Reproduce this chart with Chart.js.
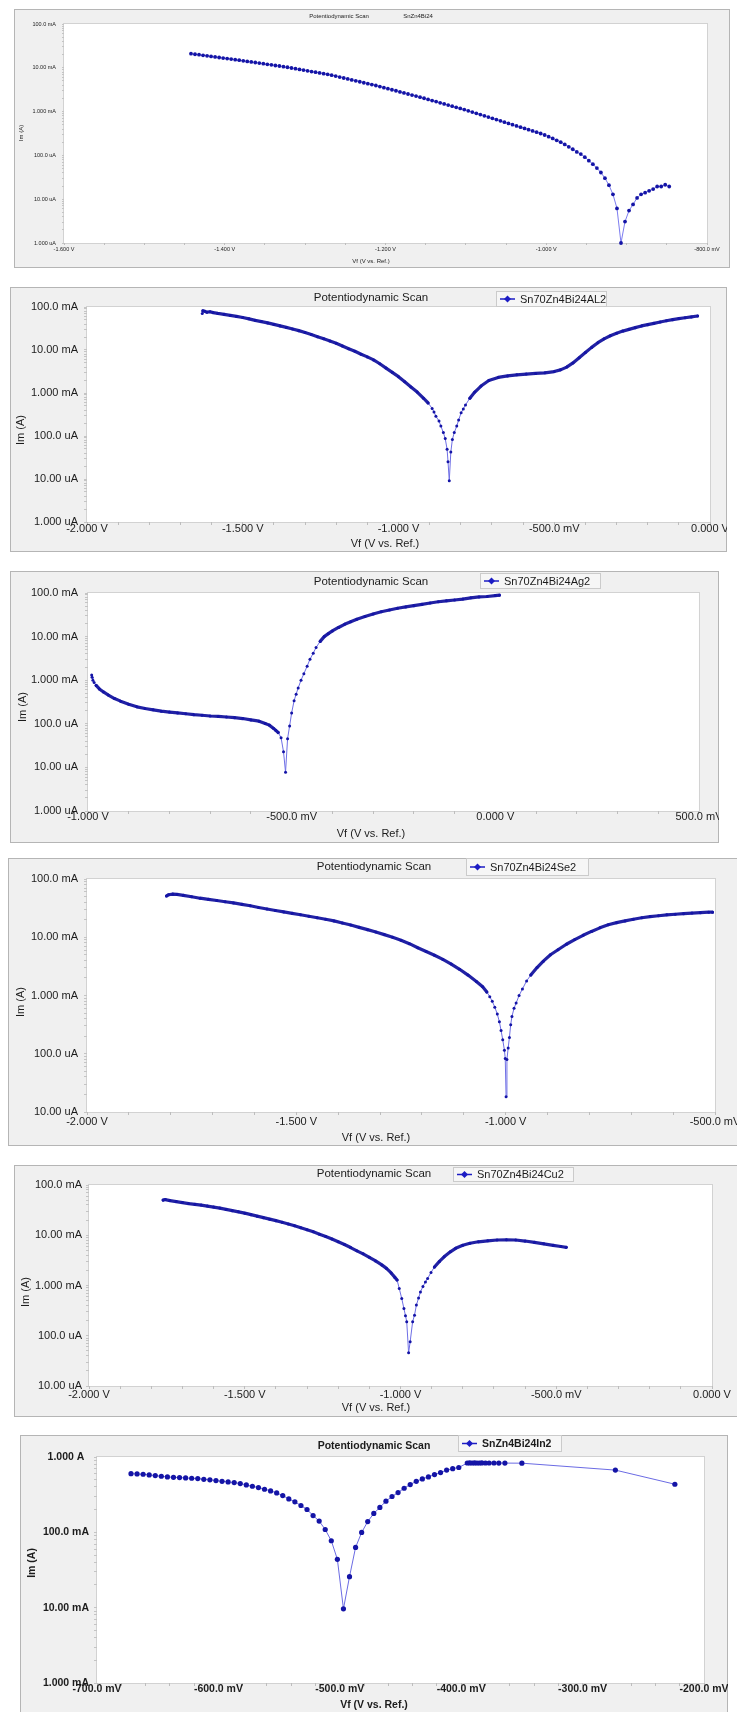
<!DOCTYPE html>
<html>
<head>
<meta charset="utf-8">
<script src="https://cdn.jsdelivr.net/npm/chart.js@4.4.1/dist/chart.umd.min.js"></script>
<style>
  html, body { margin: 0; padding: 0; background: #ffffff; }
  body { position: relative; width: 737px; height: 1712px; overflow: hidden; }
  canvas { position: absolute; display: block; }
</style>
</head>
<body>
<script>
// Potentiodynamic polarisation scans of six solder alloys.
// Potential in volts (vs. reference), current in milliamperes.

const sampleNames = ['SnZn4Bi24', 'Sn70Zn4Bi24AL2', 'Sn70Zn4Bi24Ag2', 'Sn70Zn4Bi24Se2', 'Sn70Zn4Bi24Cu2', 'SnZn4Bi24In2'];

const scan1Potential = [
  -1.442, -1.437, -1.432, -1.427, -1.422, -1.417, -1.412, -1.407, -1.402, -1.397,
  -1.392, -1.387, -1.382, -1.377, -1.372, -1.367, -1.362, -1.357, -1.352, -1.347,
  -1.342, -1.337, -1.332, -1.327, -1.322, -1.317, -1.312, -1.307, -1.302, -1.297,
  -1.292, -1.287, -1.282, -1.277, -1.272, -1.267, -1.262, -1.257, -1.252, -1.247,
  -1.242, -1.237, -1.232, -1.227, -1.222, -1.217, -1.212, -1.207, -1.202, -1.197,
  -1.192, -1.187, -1.182, -1.177, -1.172, -1.167, -1.162, -1.157, -1.152, -1.147,
  -1.142, -1.137, -1.132, -1.127, -1.122, -1.117, -1.112, -1.107, -1.102, -1.097,
  -1.092, -1.087, -1.082, -1.077, -1.072, -1.067, -1.062, -1.057, -1.052, -1.047,
  -1.042, -1.037, -1.032, -1.027, -1.022, -1.017, -1.012, -1.007, -1.002, -0.997,
  -0.992, -0.987, -0.982, -0.977, -0.972, -0.967, -0.962, -0.957, -0.952, -0.947,
  -0.942, -0.937, -0.932, -0.927, -0.922, -0.917, -0.912, -0.907, -0.902, -0.897,
  -0.892, -0.887, -0.882, -0.877, -0.872, -0.867, -0.862, -0.857, -0.852, -0.847
];
const scan1Current = [
  21.0, 20.4, 19.9, 19.3, 18.8, 18.2, 17.7, 17.2, 16.7, 16.2,
  15.8, 15.3, 14.9, 14.4, 14.0, 13.6, 13.2, 12.8, 12.4, 12.0,
  11.7, 11.3, 11.0, 10.6, 10.3, 9.89, 9.53, 9.18, 8.85, 8.53,
  8.22, 7.93, 7.64, 7.36, 7.10, 6.78, 6.46, 6.14, 5.85, 5.56,
  5.30, 5.04, 4.80, 4.56, 4.35, 4.13, 3.94, 3.72, 3.52, 3.33,
  3.15, 2.99, 2.82, 2.67, 2.52, 2.39, 2.26, 2.14, 2.02, 1.90,
  1.79, 1.69, 1.59, 1.50, 1.41, 1.33, 1.25, 1.18, 1.11, 1.04,
  0.977, 0.914, 0.855, 0.800, 0.750, 0.701, 0.656, 0.615, 0.575, 0.538,
  0.504, 0.472, 0.442, 0.413, 0.387, 0.362, 0.339, 0.316, 0.292, 0.268,
  0.244, 0.221, 0.200, 0.178, 0.157, 0.138, 0.120, 0.107, 0.0912, 0.0759,
  0.0631, 0.0513, 0.0407, 0.0302, 0.0209, 0.0129, 0.00617, 0.00100, 0.00309, 0.00550,
  0.00759, 0.0107, 0.0129, 0.0141, 0.0155, 0.0170, 0.0195, 0.0195, 0.0214, 0.0195
];

const scan2Potential = [
  -1.630, -1.628, -1.622, -1.615, -1.605, -1.595, -1.580, -1.560, -1.540, -1.520,
  -1.500, -1.480, -1.460, -1.440, -1.420, -1.400, -1.380, -1.360, -1.340, -1.320,
  -1.300, -1.280, -1.260, -1.240, -1.220, -1.200, -1.180, -1.160, -1.140, -1.120,
  -1.100, -1.080, -1.060, -1.040, -1.020, -1.000, -0.980, -0.960, -0.940, -0.920,
  -0.905, -0.892, -0.886, -0.880, -0.870, -0.864, -0.856, -0.850, -0.844, -0.841,
  -0.837, -0.832, -0.827, -0.821, -0.813, -0.807, -0.799, -0.792, -0.785, -0.771,
  -0.755, -0.735, -0.710, -0.680, -0.650, -0.620, -0.590, -0.560, -0.530, -0.500,
  -0.480, -0.460, -0.440, -0.420, -0.400, -0.380, -0.360, -0.340, -0.320, -0.300,
  -0.280, -0.260, -0.240, -0.220, -0.200, -0.180, -0.160, -0.140, -0.120, -0.100,
  -0.080, -0.060, -0.040
];
const scan2Current = [
  70.8, 81.3, 79.4, 75.9, 77.6, 74.1, 70.8, 67.6, 63.8, 60.3,
  56.9, 53.1, 49.0, 45.7, 42.7, 39.4, 36.3, 33.5, 30.9, 28.2,
  25.4, 22.9, 20.4, 18.2, 16.2, 14.3, 12.4, 10.7, 9.33, 7.94,
  6.92, 5.89, 4.79, 3.80, 3.02, 2.40, 1.82, 1.38, 1.05, 0.759,
  0.589, 0.437, 0.363, 0.288, 0.224, 0.170, 0.120, 0.0871, 0.0490, 0.0251,
  0.00912, 0.0427, 0.0832, 0.120, 0.170, 0.234, 0.347, 0.427, 0.525, 0.759,
  1.05, 1.45, 1.95, 2.30, 2.50, 2.65, 2.75, 2.85, 2.95, 3.15,
  3.45, 4.00, 5.00, 6.60, 8.70, 11.5, 14.8, 18.2, 21.4, 24.5,
  27.5, 30.2, 33.1, 36.3, 38.9, 41.7, 44.7, 47.9, 50.7, 53.7,
  56.2, 58.9, 61.7
];

const scan3Potential = [
  -0.991, -0.990, -0.988, -0.985, -0.980, -0.972, -0.962, -0.950, -0.935, -0.920,
  -0.900, -0.880, -0.860, -0.840, -0.820, -0.800, -0.780, -0.760, -0.740, -0.720,
  -0.700, -0.680, -0.660, -0.640, -0.620, -0.600, -0.580, -0.565, -0.555, -0.545,
  -0.539, -0.533, -0.526, -0.520, -0.515, -0.510, -0.505, -0.500, -0.494, -0.489,
  -0.484, -0.477, -0.470, -0.462, -0.455, -0.447, -0.440, -0.430, -0.420, -0.410,
  -0.400, -0.385, -0.370, -0.355, -0.340, -0.320, -0.300, -0.280, -0.260, -0.240,
  -0.220, -0.200, -0.180, -0.160, -0.140, -0.120, -0.100, -0.080, -0.060, -0.040,
  -0.020, 0.000, 0.010
];
const scan3Current = [
  1.32, 1.17, 1.00, 0.891, 0.759, 0.631, 0.537, 0.457, 0.380, 0.331,
  0.282, 0.245, 0.224, 0.209, 0.195, 0.186, 0.178, 0.170, 0.162, 0.157,
  0.151, 0.148, 0.143, 0.138, 0.132, 0.123, 0.115, 0.102, 0.0933, 0.0794,
  0.0708, 0.0631, 0.0479, 0.0229, 0.00776, 0.0457, 0.0891, 0.178, 0.339, 0.479,
  0.661, 1.00, 1.41, 2.09, 3.02, 4.17, 5.62, 7.76, 10.0, 11.7,
  13.5, 16.2, 19.1, 21.9, 25.1, 28.8, 33.1, 37.2, 40.7, 44.7,
  47.9, 51.3, 55.0, 58.9, 63.1, 66.1, 69.2, 72.4, 77.6, 81.3,
  83.2, 87.1, 89.1
];

const scan4Potential = [
  -1.810, -1.805, -1.795, -1.785, -1.770, -1.750, -1.730, -1.710, -1.690, -1.670,
  -1.650, -1.630, -1.610, -1.590, -1.570, -1.550, -1.530, -1.510, -1.490, -1.470,
  -1.450, -1.430, -1.410, -1.390, -1.370, -1.350, -1.330, -1.310, -1.290, -1.270,
  -1.250, -1.230, -1.210, -1.190, -1.170, -1.150, -1.130, -1.110, -1.090, -1.070,
  -1.055, -1.045, -1.038, -1.032, -1.026, -1.020, -1.015, -1.011, -1.007, -1.003,
  -1.001, -0.999, -0.997, -0.994, -0.991, -0.988, -0.985, -0.980, -0.975, -0.968,
  -0.960, -0.950, -0.940, -0.925, -0.910, -0.893, -0.875, -0.855, -0.835, -0.815,
  -0.795, -0.775, -0.755, -0.735, -0.715, -0.695, -0.675, -0.655, -0.635, -0.615,
  -0.595, -0.575, -0.555, -0.535, -0.515, -0.506
];
const scan4Current = [
  51.3, 53.7, 55.0, 54.3, 52.5, 49.5, 46.8, 44.7, 42.7, 40.7,
  38.9, 36.7, 34.7, 32.4, 30.5, 28.8, 27.2, 25.7, 24.3, 22.9,
  21.6, 20.4, 19.1, 17.6, 16.2, 14.8, 13.5, 12.3, 11.1, 10.0,
  8.91, 7.76, 6.61, 5.69, 4.90, 4.17, 3.47, 2.82, 2.24, 1.74,
  1.41, 1.15, 0.955, 0.794, 0.631, 0.479, 0.355, 0.251, 0.174, 0.115,
  0.0832, 0.0182, 0.0794, 0.126, 0.191, 0.316, 0.437, 0.603, 0.741, 1.00,
  1.29, 1.78, 2.24, 3.02, 3.89, 5.01, 6.10, 7.59, 9.12, 10.8,
  12.6, 14.5, 16.4, 17.8, 19.1, 20.4, 21.6, 22.6, 23.4, 24.3,
  24.8, 25.4, 26.0, 26.4, 26.9, 26.9
];

const scan5Potential = [
  -1.762, -1.755, -1.740, -1.720, -1.700, -1.680, -1.660, -1.640, -1.620, -1.600,
  -1.580, -1.560, -1.540, -1.520, -1.500, -1.480, -1.460, -1.440, -1.420, -1.400,
  -1.380, -1.360, -1.340, -1.320, -1.300, -1.280, -1.260, -1.240, -1.220, -1.200,
  -1.180, -1.160, -1.140, -1.120, -1.100, -1.080, -1.060, -1.045, -1.030, -1.018,
  -1.011, -1.004, -0.996, -0.989, -0.984, -0.980, -0.974, -0.969, -0.961, -0.955,
  -0.949, -0.942, -0.936, -0.928, -0.920, -0.913, -0.902, -0.891, -0.875, -0.860,
  -0.840, -0.823, -0.800, -0.777, -0.750, -0.720, -0.690, -0.660, -0.630, -0.600,
  -0.570, -0.540, -0.510, -0.485, -0.468
];
const scan5Current = [
  50.1, 51.3, 49.0, 46.8, 44.7, 42.7, 41.2, 39.8, 38.0, 36.3,
  34.7, 32.7, 30.9, 29.2, 27.5, 25.7, 24.0, 22.4, 20.9, 19.5,
  18.2, 16.8, 15.5, 14.1, 12.9, 11.7, 10.5, 9.44, 8.41, 7.41,
  6.53, 5.69, 4.90, 4.27, 3.63, 3.09, 2.57, 2.19, 1.78, 1.45,
  1.29, 0.871, 0.550, 0.347, 0.251, 0.191, 0.0457, 0.0759, 0.191, 0.257,
  0.407, 0.562, 0.741, 0.955, 1.17, 1.38, 1.82, 2.34, 3.02, 3.72,
  4.68, 5.50, 6.31, 6.92, 7.41, 7.76, 8.04, 8.13, 8.04, 7.67,
  7.24, 6.76, 6.31, 5.96, 5.75
];

const scan6Potential = [
  -0.672, -0.667, -0.662, -0.657, -0.652, -0.647, -0.642, -0.637, -0.632, -0.627,
  -0.622, -0.617, -0.612, -0.607, -0.602, -0.597, -0.592, -0.587, -0.582, -0.577,
  -0.572, -0.567, -0.562, -0.557, -0.552, -0.547, -0.542, -0.537, -0.532, -0.527,
  -0.522, -0.517, -0.512, -0.507, -0.502, -0.497, -0.492, -0.487, -0.482, -0.477,
  -0.472, -0.467, -0.462, -0.457, -0.452, -0.447, -0.442, -0.437, -0.432, -0.427,
  -0.422, -0.417, -0.412, -0.407, -0.402,
  -0.395, -0.393, -0.391, -0.389, -0.387, -0.385, -0.383, -0.380, -0.377, -0.373,
  -0.369, -0.364, -0.350, -0.273, -0.224
];
const scan6Current = [
  601, 596, 590, 578, 566, 555, 544, 538, 533, 527,
  522, 517, 506, 497, 486, 476, 467, 457, 444, 426,
  409, 393, 373, 355, 334, 308, 278, 254, 227, 201,
  167, 141, 109, 77.3, 43.8, 9.64, 25.8, 63.1, 99.7, 139,
  178, 214, 259, 299, 337, 385, 431, 476, 512, 544,
  584, 621, 670, 700, 725,
  832, 834, 833, 834, 832, 833, 834, 833, 832, 833,
  831, 830, 828, 670, 435
];

// Labelled tick positions (potential in V, current in mA)
const scan1PotentialTicks = [-1.6, -1.4, -1.2, -1.0, -0.8];
const scan2PotentialTicks = [-2.0, -1.5, -1.0, -0.5, 0.0];
const scan3PotentialTicks = [-1.0, -0.5, 0.0, 0.5];
const scan4PotentialTicks = [-2.0, -1.5, -1.0, -0.5];
const scan5PotentialTicks = [-2.0, -1.5, -1.0, -0.5, 0.0];
const scan6PotentialTicks = [-0.7, -0.6, -0.5, -0.4, -0.3, -0.2];
const currentTicksMicro = [0.001, 0.01, 0.1, 1, 10, 100];
const currentTicksTenMicro = [0.01, 0.1, 1, 10, 100];
const currentTicksMilli = [1, 10, 100, 1000];

const FONT = "'Liberation Sans', Arial, Helvetica, sans-serif";
const TEXT = '#1c1c1c';

function fmtPotential(v) {
  if (Math.abs(v) < 1e-9) return '0.000 V';
  if (Math.abs(v) >= 1 - 1e-9) return v.toFixed(3) + ' V';
  return (v * 1000).toFixed(1) + ' mV';
}
function fmtCurrent(mA) {
  if (mA >= 1000 - 1e-6) return (mA / 1000).toPrecision(4) + ' A';
  if (mA >= 1 - 1e-9) return mA.toPrecision(4) + ' mA';
  return (mA * 1000).toPrecision(4) + ' uA';
}
function isDecade(v) {
  const l = Math.log10(v);
  return Math.abs(l - Math.round(l)) < 1e-6;
}

// background, plot frame, title, legend and axis titles of one panel
function panelDecor(p) {
  return {
    id: 'panelDecor',
    beforeDraw(chart) {
      const ctx = chart.ctx;
      const a = chart.chartArea;
      ctx.save();
      ctx.fillStyle = '#f0f0f0';
      ctx.fillRect(0, 0, chart.width, chart.height);
      ctx.strokeStyle = '#b5b5b5';
      ctx.lineWidth = 1;
      ctx.strokeRect(0.5, 0.5, p.box.w - 1, p.box.h - 1);
      ctx.fillStyle = '#ffffff';
      ctx.fillRect(a.left, a.top, a.right - a.left, a.bottom - a.top);
      ctx.strokeStyle = '#d2d2d2';
      ctx.strokeRect(a.left - 0.5, a.top - 0.5, a.right - a.left + 1, a.bottom - a.top + 1);
      ctx.restore();
    },
    afterDraw(chart) {
      const ctx = chart.ctx;
      const ox = p.box.x, oy = p.box.y;
      const weight = p.bold ? 'bold ' : '';
      ctx.save();
      ctx.fillStyle = TEXT;
      ctx.textBaseline = 'middle';
      ctx.textAlign = 'center';
      ctx.font = weight + p.titleSize + 'px ' + FONT;
      ctx.fillText('Potentiodynamic Scan', p.title[0] - ox, p.title[1] - oy);

      if (p.legendBox) {
        const [lx, ly, lw, lh] = p.legendBox;
        const x = lx - ox, y = ly - oy;
        ctx.fillStyle = '#f6f6f6';
        ctx.fillRect(x, y, lw, lh);
        ctx.strokeStyle = '#cbcbcb';
        ctx.lineWidth = 1;
        ctx.strokeRect(x + 0.5, y + 0.5, lw - 1, lh - 1);
        const cy = y + lh / 2;
        ctx.strokeStyle = '#1c1cc4';
        ctx.lineWidth = 1.5;
        ctx.beginPath();
        ctx.moveTo(x + 4, cy);
        ctx.lineTo(x + 19, cy);
        ctx.stroke();
        ctx.fillStyle = '#1c1cc4';
        ctx.beginPath();
        ctx.moveTo(x + 11.5, cy - 3.5);
        ctx.lineTo(x + 15, cy);
        ctx.lineTo(x + 11.5, cy + 3.5);
        ctx.lineTo(x + 8, cy);
        ctx.closePath();
        ctx.fill();
        ctx.fillStyle = TEXT;
        ctx.textAlign = 'left';
        ctx.font = weight + p.labelSize + 'px ' + FONT;
        ctx.fillText(p.name, x + 24, cy + 0.5);
      } else {
        ctx.font = weight + p.titleSize + 'px ' + FONT;
        ctx.fillText(p.name, p.nameAt[0] - ox, p.nameAt[1] - oy);
      }

      ctx.fillStyle = TEXT;
      ctx.textAlign = 'center';
      ctx.font = weight + p.labelSize + 'px ' + FONT;
      ctx.fillText('Vf (V vs. Ref.)', p.xTitle[0] - ox, p.xTitle[1] - oy);
      ctx.translate(p.yTitle[0] - ox, p.yTitle[1] - oy);
      ctx.rotate(-Math.PI / 2);
      ctx.fillText('Im (A)', 0, 0);
      ctx.restore();
    }
  };
}

function drawScan(p) {
  const canvas = document.createElement('canvas');
  canvas.width = p.box.w;
  canvas.height = p.box.h;
  canvas.style.left = p.box.x + 'px';
  canvas.style.top = p.box.y + 'px';
  canvas.style.width = p.box.w + 'px';
  canvas.style.height = p.box.h + 'px';
  if (p.soft) canvas.style.filter = 'blur(' + p.soft + 'px)';
  document.body.appendChild(canvas);

  const yAxisWidth = p.plot.x0 - p.box.x;
  const xAxisHeight = p.box.y + p.box.h - p.plot.y1;
  const padTop = p.plot.y0 - p.box.y;
  const padRight = p.box.x + p.box.w - p.plot.x1;
  const weight = p.bold ? 'bold' : 'normal';

  const xMin = p.xTicks[0], xMax = p.xTicks[p.xTicks.length - 1];
  const yMin = p.yTicks[0], yMax = p.yTicks[p.yTicks.length - 1];

  // where the trace is shallow the closely spaced samples merge into a heavy line;
  // on steep stretches the samples separate and only a thin joining line remains
  const dense = c => {
    if (!c.p0 || c.p0.x === undefined) return true;
    const dx = Math.abs(c.p1.x - c.p0.x), dy = Math.abs(c.p1.y - c.p0.y);
    return Math.hypot(dx, dy) < p.denseGap && dy <= p.denseSlope * Math.max(dx, 0.01);
  };

  new Chart(canvas, {
    type: 'line',
    data: {
      datasets: [{
        label: p.name,
        data: p.potential.map((v, i) => ({ x: v, y: p.current[i] })),
        borderColor: p.lineColor,
        borderWidth: p.lineWidth,
        pointRadius: p.pointRadius,
        pointBackgroundColor: '#1414a6',
        pointBorderWidth: 0,
        pointHoverRadius: 0,
        tension: 0,
        fill: false,
        clip: false,
        borderCapStyle: 'round',
        borderJoinStyle: 'round',
        segment: p.denseGap ? {
          borderWidth: c => dense(c) ? 3.2 : 1,
          borderColor: c => dense(c) ? '#2222a4' : p.lineColor
        } : undefined
      }]
    },
    options: {
      responsive: false,
      animation: false,
      devicePixelRatio: 1,
      events: [],
      layout: { autoPadding: false, padding: { left: 0, top: padTop, right: padRight, bottom: 0 } },
      plugins: { legend: { display: false }, title: { display: false }, tooltip: { enabled: false } },
      scales: {
        x: {
          type: 'linear',
          min: xMin,
          max: xMax,
          afterFit: s => { s.height = xAxisHeight; },
          afterBuildTicks: s => {
            const ticks = [];
            const n = Math.round((xMax - xMin) / p.xMinor);
            for (let i = 0; i <= n; i++) {
              const value = Math.round((xMin + i * p.xMinor) * 1e4) / 1e4;
              const major = p.xTicks.some(t => Math.abs(t - value) < 1e-6);
              ticks.push({ value, major });
            }
            s.ticks = ticks;
          },
          ticks: {
            autoSkip: false,
            maxRotation: 0,
            padding: p.xPad,
            color: TEXT,
            font: { family: FONT, size: p.tickSize, weight },
            callback: v => p.xTicks.some(t => Math.abs(t - v) < 1e-6) ? fmtPotential(v) : ''
          },
          grid: { drawOnChartArea: false, drawTicks: true, tickLength: p.tickLen, color: '#bdbdbd' },
          border: { display: false }
        },
        y: {
          type: 'logarithmic',
          min: yMin,
          max: yMax,
          afterFit: s => { s.width = yAxisWidth; },
          afterBuildTicks: s => {
            const ticks = [];
            for (let d = 0; d < p.yTicks.length - 1; d++) {
              for (let m = 1; m <= 9; m++) ticks.push({ value: m * p.yTicks[d], major: m === 1 });
            }
            ticks.push({ value: yMax, major: true });
            s.ticks = ticks;
          },
          ticks: {
            autoSkip: false,
            padding: p.yPad,
            crossAlign: p.yAlign,
            color: TEXT,
            font: { family: FONT, size: p.tickSize, weight },
            callback: v => isDecade(v) ? fmtCurrent(v) : ''
          },
          grid: { drawOnChartArea: false, drawTicks: true, tickLength: p.tickLen, color: '#c4c4c4' },
          border: { display: false }
        }
      }
    },
    plugins: [panelDecor(p)]
  });
}

const denseStyle = { lineColor: '#6f6fe6', lineWidth: 1, pointRadius: 1.5, denseGap: 14, denseSlope: 1.3 };
const common = { titleSize: 11.5, labelSize: 11, tickSize: 11, tickLen: 3, yAlign: 'near', bold: false };

drawScan(Object.assign({}, common, {
  name: sampleNames[0], potential: scan1Potential, current: scan1Current,
  box: { x: 14, y: 9, w: 716, h: 259 }, plot: { x0: 64, y0: 24, x1: 707, y1: 243 },
  xTicks: scan1PotentialTicks, xMinor: 0.05, yTicks: currentTicksMicro,
  title: [339, 16], nameAt: [418, 16], xTitle: [371, 261], yTitle: [21, 133],
  titleSize: 6, labelSize: 6, tickSize: 5.5, tickLen: 2, xPad: 1, yPad: 6,
  lineColor: '#7d7df0', lineWidth: 1, pointRadius: 1.9, denseGap: 0, soft: 0.45
}));

drawScan(Object.assign({}, common, denseStyle, {
  name: sampleNames[1], potential: scan2Potential, current: scan2Current,
  box: { x: 10, y: 287, w: 717, h: 265 }, plot: { x0: 87, y0: 307, x1: 710, y1: 522 },
  xTicks: scan2PotentialTicks, xMinor: 0.1, yTicks: currentTicksMicro,
  title: [371, 298], legendBox: [496, 291, 111, 16], xTitle: [385, 544], yTitle: [21, 430],
  xPad: -3, yPad: 6
}));

drawScan(Object.assign({}, common, denseStyle, {
  name: sampleNames[2], potential: scan3Potential, current: scan3Current,
  box: { x: 10, y: 571, w: 709, h: 272 }, plot: { x0: 88, y0: 593, x1: 708, y1: 811 },
  xTicks: scan3PotentialTicks, xMinor: 0.1, yTicks: currentTicksMicro,
  title: [371, 582], legendBox: [480, 573, 121, 16], xTitle: [371, 834], yTitle: [23, 707],
  xPad: -3.5, yPad: 7
}));

drawScan(Object.assign({}, common, denseStyle, {
  name: sampleNames[3], potential: scan4Potential, current: scan4Current,
  box: { x: 8, y: 858, w: 735, h: 288 }, plot: { x0: 87, y0: 879, x1: 715, y1: 1112 },
  xTicks: scan4PotentialTicks, xMinor: 0.1, yTicks: currentTicksTenMicro,
  title: [374, 867], legendBox: [466, 858, 123, 18], xTitle: [376, 1138], yTitle: [21, 1002],
  xPad: 0, yPad: 6
}));

drawScan(Object.assign({}, common, denseStyle, {
  name: sampleNames[4], potential: scan5Potential, current: scan5Current,
  box: { x: 14, y: 1165, w: 730, h: 252 }, plot: { x0: 89, y0: 1185, x1: 712, y1: 1386 },
  xTicks: scan5PotentialTicks, xMinor: 0.1, yTicks: currentTicksTenMicro,
  title: [374, 1174], legendBox: [453, 1167, 121, 15], xTitle: [376, 1408], yTitle: [26, 1292],
  xPad: -0.5, yPad: 4
}));

drawScan(Object.assign({}, common, {
  name: sampleNames[5], potential: scan6Potential, current: scan6Current,
  box: { x: 20, y: 1435, w: 708, h: 290 }, plot: { x0: 97, y0: 1457, x1: 704, y1: 1683 },
  xTicks: scan6PotentialTicks, xMinor: 0.02, yTicks: currentTicksMilli,
  title: [374, 1446], legendBox: [458, 1435, 104, 17], xTitle: [374, 1705], yTitle: [32, 1563],
  bold: true, titleSize: 10.5, labelSize: 10.5, tickSize: 10.5, xPad: -3.3, yPad: 5, yAlign: 'center',
  lineColor: '#6b6be4', lineWidth: 1, pointRadius: 2.6, denseGap: 0
}));
</script>
</body>
</html>
